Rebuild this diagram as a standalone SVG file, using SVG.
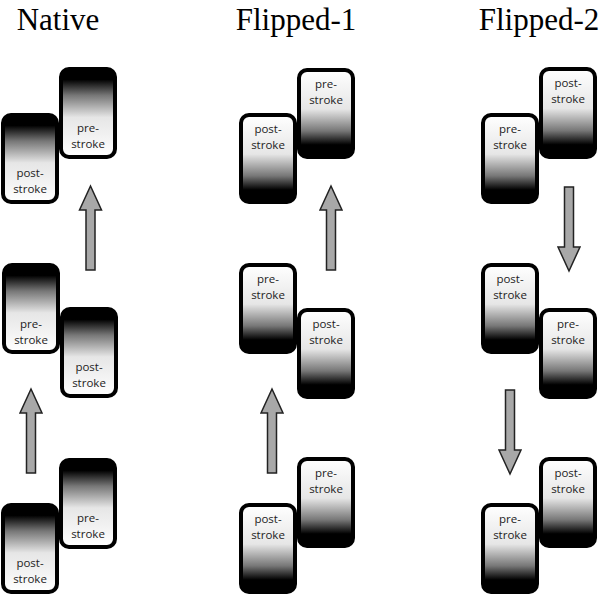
<svg xmlns="http://www.w3.org/2000/svg" xmlns:xlink="http://www.w3.org/1999/xlink" width="600" height="597" viewBox="0 0 600 597">
<defs>
<linearGradient id="gNative" x1="0" y1="0" x2="0" y2="1">
<stop offset="0" stop-color="#000"/>
<stop offset="0.12" stop-color="#000"/>
<stop offset="0.3" stop-color="#777"/>
<stop offset="0.55" stop-color="#e6e6e6"/>
<stop offset="1" stop-color="#fff"/>
</linearGradient>
<linearGradient id="gFlip" x1="0" y1="0" x2="0" y2="1">
<stop offset="0" stop-color="#fff"/>
<stop offset="0.45" stop-color="#e6e6e6"/>
<stop offset="0.7" stop-color="#777"/>
<stop offset="0.86" stop-color="#000"/>
<stop offset="1" stop-color="#000"/>
</linearGradient>
<path id="arrowUp" d="M0,0 L11,24 L4.5,24 L4.5,84 L-4.5,84 L-4.5,24 L-11,24 Z"/>
</defs>
<style>
.title{font-family:"Liberation Serif","Times New Roman",serif;font-size:31px;fill:#000;text-anchor:middle}
.box{stroke:#000;stroke-width:4}
.nat{fill:url(#gNative)}
.flp{fill:url(#gFlip)}
.lbl{font-family:"Open Sans","DejaVu Sans",sans-serif;font-size:11.5px;fill:#222;text-anchor:middle}
.arrow{fill:#a8a8a8;stroke:#222;stroke-width:1.5;stroke-linejoin:miter}
</style>
<rect width="600" height="597" fill="#fff"/>
<text class="title" x="58" y="30">Native</text>
<text class="title" x="296" y="30">Flipped-1</text>
<text class="title" x="539" y="30">Flipped-2</text>

<g id="native-top-post"><rect class="box nat" x="3" y="115" width="54" height="87" rx="8"/><text class="lbl" x="30" y="177">post-</text><text class="lbl" x="30" y="193">stroke</text></g>
<g id="native-top-pre"><rect class="box nat" x="61" y="69" width="54" height="88" rx="8"/><text class="lbl" x="88" y="132">pre-</text><text class="lbl" x="88" y="148">stroke</text></g>
<g id="native-mid-pre"><rect class="box nat" x="4" y="265" width="54" height="87" rx="8"/><text class="lbl" x="31" y="328">pre-</text><text class="lbl" x="31" y="344">stroke</text></g>
<g id="native-mid-post"><rect class="box nat" x="62" y="309" width="54" height="87" rx="8"/><text class="lbl" x="89" y="371">post-</text><text class="lbl" x="89" y="387">stroke</text></g>
<g id="native-bot-post"><rect class="box nat" x="3" y="505" width="54" height="87" rx="8"/><text class="lbl" x="30" y="567">post-</text><text class="lbl" x="30" y="583">stroke</text></g>
<g id="native-bot-pre"><rect class="box nat" x="61" y="460" width="54" height="87" rx="8"/><text class="lbl" x="88" y="522">pre-</text><text class="lbl" x="88" y="538">stroke</text></g>

<g id="f1-top-post"><rect class="box flp" x="241" y="115" width="54" height="87" rx="8"/><text class="lbl" x="268" y="133">post-</text><text class="lbl" x="268" y="149">stroke</text></g>
<g id="f1-top-pre"><rect class="box flp" x="299" y="70" width="54" height="87" rx="8"/><text class="lbl" x="326" y="88">pre-</text><text class="lbl" x="326" y="104">stroke</text></g>
<g id="f1-mid-pre"><rect class="box flp" x="241" y="265" width="54" height="87" rx="8"/><text class="lbl" x="268" y="283">pre-</text><text class="lbl" x="268" y="299">stroke</text></g>
<g id="f1-mid-post"><rect class="box flp" x="299" y="310" width="54" height="87" rx="8"/><text class="lbl" x="326" y="328">post-</text><text class="lbl" x="326" y="344">stroke</text></g>
<g id="f1-bot-post"><rect class="box flp" x="241" y="505" width="54" height="87" rx="8"/><text class="lbl" x="268" y="523">post-</text><text class="lbl" x="268" y="539">stroke</text></g>
<g id="f1-bot-pre"><rect class="box flp" x="299" y="459" width="54" height="87" rx="8"/><text class="lbl" x="326" y="477">pre-</text><text class="lbl" x="326" y="493">stroke</text></g>

<g id="f2-top-pre"><rect class="box flp" x="483" y="115" width="54" height="87" rx="8"/><text class="lbl" x="510" y="133">pre-</text><text class="lbl" x="510" y="149">stroke</text></g>
<g id="f2-top-post"><rect class="box flp" x="541" y="69" width="54" height="88" rx="8"/><text class="lbl" x="568" y="87">post-</text><text class="lbl" x="568" y="103">stroke</text></g>
<g id="f2-mid-post"><rect class="box flp" x="483" y="265" width="54" height="87" rx="8"/><text class="lbl" x="510" y="283">post-</text><text class="lbl" x="510" y="299">stroke</text></g>
<g id="f2-mid-pre"><rect class="box flp" x="541" y="310" width="54" height="87" rx="8"/><text class="lbl" x="568" y="328">pre-</text><text class="lbl" x="568" y="344">stroke</text></g>
<g id="f2-bot-pre"><rect class="box flp" x="483" y="505" width="54" height="87" rx="8"/><text class="lbl" x="510" y="523">pre-</text><text class="lbl" x="510" y="539">stroke</text></g>
<g id="f2-bot-post"><rect class="box flp" x="541" y="459" width="54" height="87" rx="8"/><text class="lbl" x="568" y="477">post-</text><text class="lbl" x="568" y="493">stroke</text></g>

<g id="connectors">
<use class="arrow" xlink:href="#arrowUp" transform="translate(90.5,186)"/>
<use class="arrow" xlink:href="#arrowUp" transform="translate(31,389)"/>
<use class="arrow" xlink:href="#arrowUp" transform="translate(331,186)"/>
<use class="arrow" xlink:href="#arrowUp" transform="translate(272,389)"/>
<use class="arrow" xlink:href="#arrowUp" transform="translate(569,271) rotate(180)"/>
<use class="arrow" xlink:href="#arrowUp" transform="translate(510,474) rotate(180)"/>
</g>
</svg>
